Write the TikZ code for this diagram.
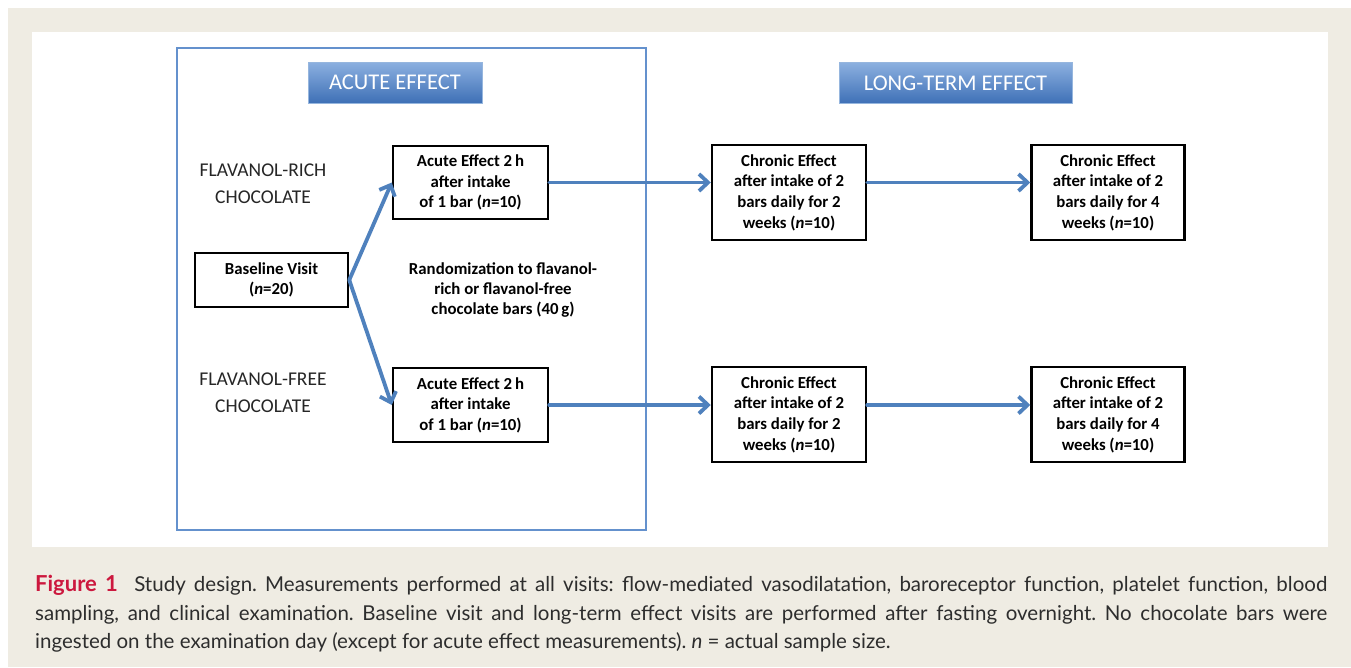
\documentclass[tikz,border=0pt]{standalone}
\usepackage{fontspec}
\setmainfont{Carlito}
\newfontfamily\capfont{Lato}
\usetikzlibrary{arrows.meta}

\definecolor{officeblue}{RGB}{79,129,189}
\definecolor{frameblue}{RGB}{100,145,205}
\definecolor{bannertop}{RGB}{140,176,224}
\definecolor{bannerbot}{RGB}{62,112,182}
\definecolor{bannerline}{RGB}{150,182,222}
\definecolor{paper}{RGB}{239,236,227}
\definecolor{figred}{RGB}{204,24,62}
\definecolor{captext}{RGB}{45,45,45}

\begin{document}
\begin{tikzpicture}[x=1pt,y=-1pt,
    visit/.style={draw=black, line width=2.5pt, inner sep=0pt, align=center,
        font=\fontsize{16.8}{20.6}\selectfont\bfseries},
    flow/.style={draw=officeblue, line width=3.8pt, line cap=round,
        -{Straight Barb[length=9pt,width=17pt]}},
    banner/.style={draw=bannerline, line width=1pt, top color=bannertop,
        bottom color=bannerbot, text=white, inner sep=0pt, minimum height=41pt,
        font=\fontsize{22.5}{27}\selectfont},
    armtext/.style={align=center, inner sep=0pt, text=black!85,
        font=\fontsize{19.5}{26.7}\selectfont}]
    \useasboundingbox (0,0) rectangle (1351,667);
    % page and panel
    \fill[paper] (8,8) rectangle (1351,667);
    \fill[white] (32,32) rectangle (1328,547);
    \draw[frameblue, line width=2pt] (177,48) rectangle (646,530);
    % headings
    \node[banner, minimum width=174pt] (acutehead) at (395,82.5) {ACUTE EFFECT};
    \node[banner, minimum width=233pt] (longhead) at (955.5,83) {LONG-TERM EFFECT};
    % group labels
    \node[armtext] (richlab) at (263,183.5) {FLAVANOL-RICH\\CHOCOLATE};
    \node[armtext] (freelab) at (263,393) {FLAVANOL-FREE\\CHOCOLATE};
    \node[align=center, inner sep=0pt, font=\fontsize{16.8}{20.4}\selectfont\bfseries]
        (random) at (503,290) {Randomization to flavanol-\\rich or flavanol-free\\chocolate bars (40\,g)};
    % visits
    \node[visit, minimum width=153pt, minimum height=54pt] (baseline) at (271.5,280)
        {Baseline Visit\\(\textit{n}=20)};
    \node[visit, minimum width=155pt, minimum height=73pt] (acuterich) at (470.5,182.5)
        {Acute Effect 2\,h\\after intake\\of 1 bar (\textit{n}=10)};
    \node[visit, minimum width=155pt, minimum height=74pt] (acutefree) at (470.5,405)
        {Acute Effect 2\,h\\after intake\\of 1 bar (\textit{n}=10)};
    \node[visit, minimum width=154pt, minimum height=95pt] (richtwo) at (789,192.5)
        {Chronic Effect\\after intake of 2\\bars daily for 2\\weeks (\textit{n}=10)};
    \node[visit, minimum width=153pt, minimum height=95pt] (richfour) at (1108,192.5)
        {Chronic Effect\\after intake of 2\\bars daily for 4\\weeks (\textit{n}=10)};
    \node[visit, minimum width=154pt, minimum height=95pt] (freetwo) at (789,414.5)
        {Chronic Effect\\after intake of 2\\bars daily for 2\\weeks (\textit{n}=10)};
    \node[visit, minimum width=153pt, minimum height=95pt] (freefour) at (1108,414.5)
        {Chronic Effect\\after intake of 2\\bars daily for 4\\weeks (\textit{n}=10)};
    % arrows
    \draw[flow] (baseline.east) -- (acuterich.west);
    \draw[flow] (baseline.east) -- (acutefree.west);
    \draw[flow] (acuterich.east) -- (richtwo.west |- acuterich.east);
    \draw[flow] (richtwo.east |- acuterich.east) -- (richfour.west |- acuterich.east);
    \draw[flow] (acutefree.east) -- (freetwo.west |- acutefree.east);
    \draw[flow] (freetwo.east |- acutefree.east) -- (freefour.west |- acutefree.east);
    % caption
    \node[anchor=north west, text width=1292pt, align=justify, inner sep=0pt,
        text=captext, font=\capfont\fontsize{20.5}{28.6}\selectfont\frenchspacing] (caption) at (35,575)
        {\hyphenpenalty=10000\textcolor{figred}{\fontsize{22}{28.6}\selectfont\bfseries Figure 1}\hspace{0.4em}
        Study design. Measurements performed at all visits: flow-mediated vasodilatation,
        baroreceptor function, platelet function, blood\linebreak
        sampling, and clinical examination. Baseline visit and long-term effect visits are
        performed after fasting overnight. No chocolate bars were\linebreak
        ingested on the examination day (except for acute effect measurements).
        \textit{n} = actual sample size.};
\end{tikzpicture}
\end{document}
